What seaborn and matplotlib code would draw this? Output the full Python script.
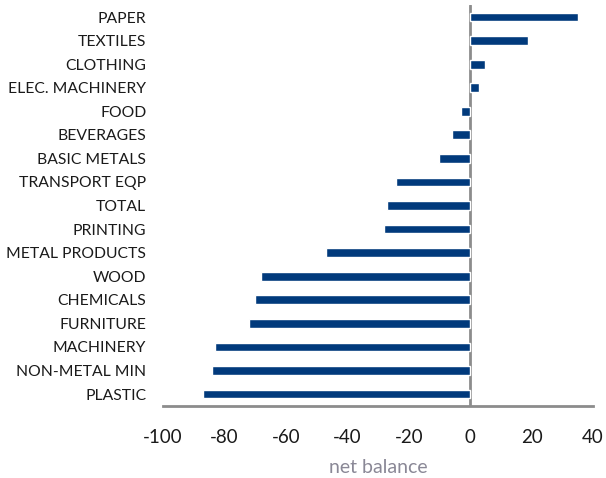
import matplotlib
matplotlib.use("Agg")
import matplotlib.pyplot as plt
import seaborn as sns
import pandas as pd

categories = ["PAPER", "TEXTILES", "CLOTHING", "ELEC. MACHINERY", "FOOD",
              "BEVERAGES", "BASIC METALS", "TRANSPORT EQP", "TOTAL", "PRINTING",
              "METAL PRODUCTS", "WOOD", "CHEMICALS", "FURNITURE", "MACHINERY",
              "NON-METAL MIN", "PLASTIC"]
net_balance = [35, 19, 5, 3, -3, -6, -10, -24, -27, -28, -47, -68, -70, -72,
               -83, -84, -87]
x_ticks = [-100, -80, -60, -40, -20, 0, 20, 40]

df = pd.DataFrame({"sector": categories, "value": net_balance})

sns.set_theme(style="white")
plt.rcParams["font.family"] = ["Lato", "DejaVu Sans"]

fig = plt.figure(figsize=(6.06, 4.78), dpi=100)
ax = fig.add_axes([0.269, 0.151, 0.7095, 0.838])

sns.barplot(data=df, x="value", y="sector", orient="h", color="#013a7c",
            saturation=1, width=0.37, ax=ax)

ax.set_xlim(-100, 40)
ax.set_ylim(16.5, -0.5)
ax.set_xticks(x_ticks)
ax.set_xticklabels([str(t) for t in x_ticks], fontsize=13.5, color="#1a1a1a")
ax.tick_params(axis="y", labelsize=11.3, colors="#1a1a1a", length=0, pad=12)
ax.tick_params(axis="x", length=0, pad=17)
ax.set_ylabel("")
ax.set_xlabel("net balance", fontsize=14, color="#8a8896", labelpad=9)

for side in ["top", "right", "left"]:
    ax.spines[side].set_visible(False)
ax.spines["bottom"].set_color("#8c8c8c")
ax.spines["bottom"].set_linewidth(2)
ax.axvline(0, color="#8c8c8c", linewidth=2, zorder=0)

fig.savefig("out.png", dpi=100)
